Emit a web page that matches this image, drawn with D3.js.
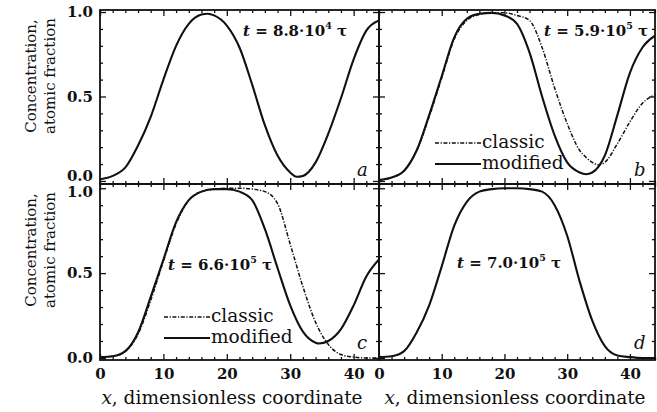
<!DOCTYPE html>
<html><head><meta charset="utf-8">
<script src="https://cdn.jsdelivr.net/npm/d3@7"></script>
<style>
body{margin:0;background:#fff}
svg{display:block}
text{font-family:"DejaVu Serif",serif;fill:#111}
</style>
</head><body>
<svg id="chart" width="657" height="412"></svg>
<script>
// Axis ticks
const xMajor = [0, 10, 20, 30, 40];
const xMinor = [2, 4, 6, 8, 12, 14, 16, 18, 22, 24, 26, 28, 32, 34, 36, 38, 42, 44];
const yMajor = [0, 0.5, 1.0];
const yMinor = [0.1, 0.2, 0.3, 0.4, 0.6, 0.7, 0.8, 0.9];

// Panel a: t = 8.8·10^4 τ
const xA = [0, 2, 4, 6, 8, 10, 12, 14, 16, 17, 18, 20, 22, 24, 26, 28, 30, 31, 32, 34, 36, 38, 40, 42, 44];
const yA = [0.01, 0.03, 0.08, 0.21, 0.38, 0.60, 0.80, 0.93, 0.985, 0.99, 0.98, 0.92, 0.79, 0.57, 0.33, 0.15, 0.05, 0.025, 0.03, 0.11, 0.28, 0.49, 0.72, 0.89, 0.95];

// Panel b: t = 5.9·10^5 τ
const xB = [0, 2, 4, 6, 8, 10, 12, 14, 16, 18, 20, 22, 24, 26, 28, 30, 32, 33, 34, 35, 36, 38, 40, 42, 44];
const yBmod = [0.005, 0.02, 0.06, 0.18, 0.39, 0.62, 0.85, 0.96, 0.99, 0.995, 0.98, 0.93, 0.76, 0.50, 0.27, 0.11, 0.05, 0.04, 0.05, 0.085, 0.15, 0.39, 0.64, 0.79, 0.86];
const yBcls = [0.005, 0.02, 0.06, 0.18, 0.38, 0.61, 0.84, 0.95, 0.985, 0.995, 0.995, 0.98, 0.95, 0.79, 0.55, 0.34, 0.18, 0.14, 0.11, 0.095, 0.11, 0.22, 0.35, 0.46, 0.51];

// Panel c: t = 6.6·10^5 τ
const xC = [0, 2, 4, 6, 8, 10, 12, 14, 16, 18, 20, 22, 24, 26, 28, 30, 32, 34, 34.5, 36, 38, 40, 42, 44];
const yCmod = [0.005, 0.01, 0.04, 0.15, 0.36, 0.58, 0.80, 0.93, 0.98, 0.995, 0.995, 0.98, 0.93, 0.76, 0.53, 0.31, 0.155, 0.09, 0.085, 0.10, 0.17, 0.31, 0.48, 0.58];
const yCcls = [0.005, 0.01, 0.04, 0.14, 0.34, 0.57, 0.79, 0.93, 0.98, 0.995, 1.0, 1.0, 0.995, 0.98, 0.91, 0.67, 0.42, 0.21, 0.17, 0.08, 0.02, 0.005, 0.0, 0.0];

// Panel d: t = 7.0·10^5 τ
const xD = [0, 2, 4, 6, 8, 10, 12, 14, 16, 18, 20, 22, 24, 26, 28, 30, 32, 34, 36, 38, 40, 42, 44];
const yD = [0.005, 0.01, 0.04, 0.15, 0.31, 0.54, 0.78, 0.92, 0.98, 0.995, 1.0, 1.0, 0.995, 0.98, 0.90, 0.72, 0.45, 0.22, 0.07, 0.015, 0.005, 0.0, 0.0];

const panelLetters = ["a", "b", "c", "d"];
const timeMantissa = ["8.8", "5.9", "6.6", "7.0"];
const timeExponent = ["4", "5", "5", "5"];
const legendNames = ["classic", "modified"];
const yTitle = ["Concentration,", "atomic fraction"];
const xTitle = "x";
const xTitleRest = ", dimensionless coordinate";

const svg = d3.select("#chart");
const INK = "#111";
const DASH = "4,1.6,1.2,1.6";

const cols = [[100, 379], [379, 655]];
const rows = [{r: [184, 10], d: [-0.018, 1.012]}, {r: [360, 184], d: [-0.012, 1.025]}];

const zip = (xs, ys) => xs.map((x, i) => [x, ys[i]]);

const panels = [
  {col: 0, row: 0, series: [{pts: zip(xA, yA), dash: null}],
   label: {x: 243, y: 36}, letter: {x: 357, y: 176}},
  {col: 1, row: 0, series: [{pts: zip(xB, yBcls), dash: DASH}, {pts: zip(xB, yBmod), dash: null}],
   label: {x: 544, y: 36}, letter: {x: 634, y: 176}, legend: {x: 435, y: 143}},
  {col: 0, row: 1, series: [{pts: zip(xC, yCcls), dash: DASH}, {pts: zip(xC, yCmod), dash: null}],
   label: {x: 168, y: 270}, letter: {x: 357, y: 349}, legend: {x: 164, y: 317}},
  {col: 1, row: 1, series: [{pts: zip(xD, yD), dash: null}],
   label: {x: 457, y: 268}, letter: {x: 634, y: 349}}
];

const MAJ = 6, MIN = 3;

panels.forEach((p, i) => {
  const x = d3.scaleLinear().domain([0, 44]).range(cols[p.col]);
  const y = d3.scaleLinear().domain(rows[p.row].d).range(rows[p.row].r);
  const [x0, x1] = cols[p.col];
  const [y1, y0] = rows[p.row].r;
  const g = svg.append("g");

  const clipId = "clip" + i;
  svg.append("clipPath").attr("id", clipId).append("rect")
    .attr("x", x0).attr("y", y0).attr("width", x1 - x0).attr("height", y1 - y0);

  // inward ticks on all four sides
  const addAxis = (axisFn, scale, vals, size, transform, labels) => {
    const a = axisFn(scale).tickValues(vals).tickSize(-size).tickPadding(labels ? 8 : 0);
    if (!labels) a.tickFormat("");
    else a.tickFormat(labels);
    const ag = g.append("g").attr("transform", transform).call(a);
    ag.select(".domain").remove();
    ag.selectAll("line").attr("stroke", INK).attr("stroke-width", 1.3);
    return ag;
  };
  const showY = p.col === 0;
  const showX = p.row === 1;
  const yl = addAxis(d3.axisLeft, y, yMajor, MAJ, `translate(${x0},0)`, showY ? d3.format(".1f") : null);
  addAxis(d3.axisLeft, y, yMinor, MIN, `translate(${x0},0)`, null);
  addAxis(d3.axisRight, y, yMajor, MAJ, `translate(${x1},0)`, null);
  addAxis(d3.axisRight, y, yMinor, MIN, `translate(${x1},0)`, null);
  const xl = addAxis(d3.axisBottom, x, xMajor, MAJ, `translate(0,${y1})`, showX ? d3.format("d") : null);
  addAxis(d3.axisBottom, x, xMinor, MIN, `translate(0,${y1})`, null);
  addAxis(d3.axisTop, x, xMajor, MAJ, `translate(0,${y0})`, null);
  addAxis(d3.axisTop, x, xMinor, MIN, `translate(0,${y0})`, null);

  if (showY) {
    yl.selectAll("text").attr("font-size", 15).attr("font-weight", "bold").attr("fill", INK)
      .attr("font-family", "DejaVu Serif").attr("x", -7)
      .attr("dy", d => (p.row === 0 && d === 0) ? "-0.05em" : (p.row === 1 && d === 1) ? "0.55em" : "0.32em");
  }
  if (showX) {
    xl.selectAll("text").attr("font-size", 15).attr("font-weight", "bold").attr("fill", INK)
      .attr("font-family", "DejaVu Serif").attr("y", 8);
  }

  // curves
  const line = d3.line().x(d => x(d[0])).y(d => y(d[1])).curve(d3.curveMonotoneX);
  p.series.forEach(s => {
    g.append("path").datum(s.pts).attr("clip-path", `url(#${clipId})`)
      .attr("d", line).attr("fill", "none").attr("stroke", INK)
      .attr("stroke-width", s.dash ? 1.5 : 2.1)
      .attr("stroke-dasharray", s.dash);
  });

  // frame
  g.append("rect").attr("x", x0).attr("y", y0).attr("width", x1 - x0).attr("height", y1 - y0)
    .attr("fill", "none").attr("stroke", INK).attr("stroke-width", 1.8);

  // time label
  const t = g.append("text").attr("x", p.label.x).attr("y", p.label.y)
    .attr("font-size", 15).attr("font-weight", "bold");
  t.append("tspan").attr("font-style", "italic").text("t");
  t.append("tspan").text(" = " + timeMantissa[i] + "·10");
  t.append("tspan").attr("font-size", 9.5).attr("dy", -7).text(timeExponent[i]);
  t.append("tspan").attr("dy", 7).text(" τ");

  // panel letter
  g.append("text").attr("x", p.letter.x).attr("y", p.letter.y)
    .attr("font-size", 18).attr("font-style", "italic").text(panelLetters[i]);

  // legend
  if (p.legend) {
    legendNames.forEach((name, k) => {
      const ly = p.legend.y + k * 21;
      g.append("line").attr("x1", p.legend.x).attr("x2", p.legend.x + 46)
        .attr("y1", ly).attr("y2", ly).attr("stroke", INK)
        .attr("stroke-width", k === 0 ? 1.5 : 2.1)
        .attr("stroke-dasharray", k === 0 ? DASH : null);
      g.append("text").attr("x", p.legend.x + 47).attr("y", ly + 5)
        .attr("font-size", 18.5).text(name);
    });
  }
});

// y-axis titles
[76, 250].forEach(cy => {
  yTitle.forEach((s, k) => {
    svg.append("text").attr("transform", `translate(${36 + k * 19},${cy}) rotate(-90)`)
      .attr("text-anchor", "middle").attr("font-size", 15).text(s);
  });
});

// x-axis titles
[232, 515].forEach(cx => {
  const tt = svg.append("text").attr("x", cx).attr("y", 404)
    .attr("text-anchor", "middle").attr("font-size", 18.5);
  tt.append("tspan").attr("font-style", "italic").text(xTitle);
  tt.append("tspan").text(xTitleRest);
});
</script>
</body></html>
